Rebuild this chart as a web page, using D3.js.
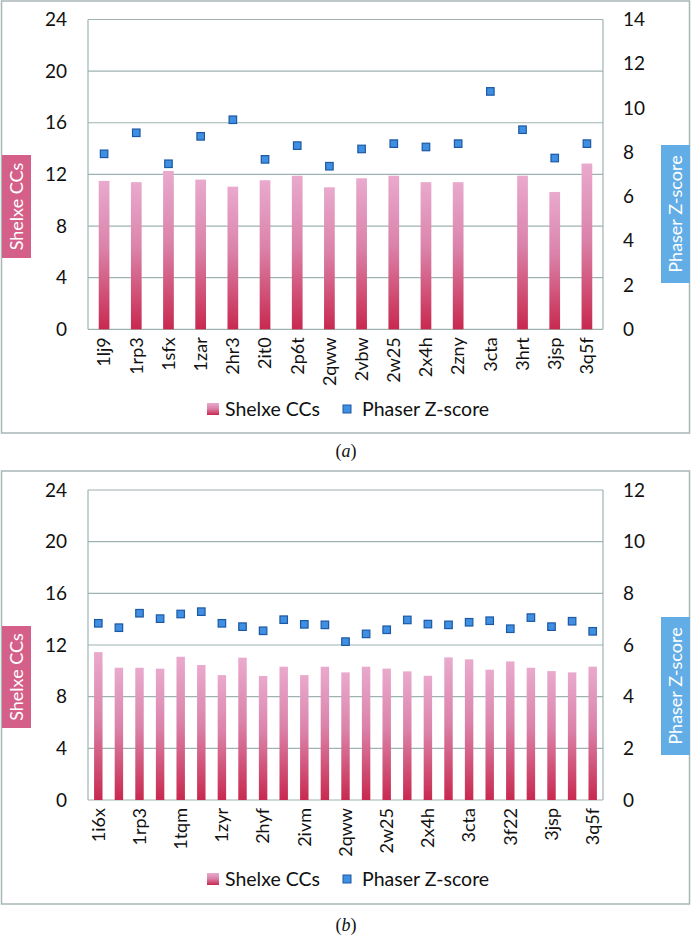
<!DOCTYPE html>
<html><head><meta charset="utf-8">
<script src="https://cdn.jsdelivr.net/npm/d3@7"></script>
<style>body{margin:0;background:#fff}svg{display:block}</style>
</head><body>
<script>
// Panel (a)
const catsA = ["1lj9","1rp3","1sfx","1zar","2hr3","2it0","2p6t","2qww","2vbw","2w25","2x4h","2zny","3cta","3hrt","3jsp","3q5f"];
const shelxeA = [11.5,11.4,12.27,11.6,11.05,11.55,11.9,11.0,11.7,11.9,11.4,11.4,null,11.9,10.64,12.84];
const phaserA = [7.93,8.88,7.48,8.72,9.47,7.68,8.30,7.37,8.15,8.39,8.24,8.39,10.75,9.02,7.74,8.39];
const leftTicksA = [0,4,8,12,16,20,24];
const rightTicksA = [0,2,4,6,8,10,12,14];
// Panel (b)
const catsB = ["1i6x","1lj9","1rp3","1sfx","1tqm","1zar","1zyr","2hr3","2hyf","2it0","2ivm","2p6t","2qww","2vbw","2w25","?a","2x4h","2zny","3cta","?b","3f22","3hrt","3jsp","?c","3q5f"];
const shelxeB = [11.45,10.24,10.24,10.17,11.09,10.45,9.67,11.02,9.6,10.32,9.67,10.32,9.88,10.32,10.17,9.96,9.62,11.04,10.89,10.09,10.73,10.24,9.98,9.88,10.32];
const phaserB = [6.84,6.67,7.23,7.02,7.2,7.29,6.84,6.71,6.55,6.98,6.8,6.78,6.13,6.43,6.59,6.97,6.81,6.78,6.88,6.94,6.63,7.06,6.71,6.92,6.53];
const leftTicksB = [0,4,8,12,16,20,24];
const rightTicksB = [0,2,4,6,8,10,12];

const W = 692, H = 935;
const svg = d3.select("body").append("svg").attr("width", W).attr("height", H);
const defs = svg.append("defs");
const grad = defs.append("linearGradient").attr("id","barGrad").attr("x1",0).attr("y1",0).attr("x2",0).attr("y2",1);
grad.append("stop").attr("offset","0%").attr("stop-color","#e9aacd");
grad.append("stop").attr("offset","45%").attr("stop-color","#db83aa");
grad.append("stop").attr("offset","100%").attr("stop-color","#c8294f");
const FONT = "Lato, 'Open Sans', sans-serif";

function panel(o) {
  const g = svg.append("g");
  g.append("rect").attr("x",1.5).attr("y",o.boxTop).attr("width",688).attr("height",o.boxBottom-o.boxTop)
    .attr("fill","#fff").attr("stroke","#a9b6b6").attr("stroke-width",1.5);
  const x = d3.scaleBand().domain(o.cats).range([88,603]).paddingInner(o.pad).paddingOuter(o.pad/2);
  const yL = d3.scaleLinear().domain([0,24]).range([o.zero,o.top]);
  const yR = d3.scaleLinear().domain([0,o.rmax]).range([o.zero,o.top]);
  // grid
  g.append("g").selectAll("line").data(o.lt).join("line")
    .attr("x1",88).attr("x2",603).attr("y1",d=>yL(d)).attr("y2",d=>yL(d))
    .attr("stroke","#9fb2b2").attr("stroke-width",1.2);
  g.append("line").attr("x1",88).attr("x2",88).attr("y1",o.top).attr("y2",o.zero).attr("stroke","#9fb2b2").attr("stroke-width",1.2);
  g.append("line").attr("x1",603).attr("x2",603).attr("y1",o.top).attr("y2",o.zero).attr("stroke","#9fb2b2").attr("stroke-width",1.2);
  // left axis
  const la = g.append("g").attr("transform",`translate(67,0)`).call(d3.axisLeft(yL).tickValues(o.lt).tickSize(0).tickPadding(0));
  la.select(".domain").remove();
  la.selectAll("text").attr("font-family",FONT).attr("font-size",19).attr("fill","#111");
  const ra = g.append("g").attr("transform",`translate(623,0)`).call(d3.axisRight(yR).tickValues(o.rt).tickSize(0).tickPadding(0));
  ra.select(".domain").remove();
  ra.selectAll("text").attr("font-family",FONT).attr("font-size",19).attr("fill","#111");
  // bars
  g.append("g").selectAll("rect").data(o.cats.map((c,i)=>({c,v:o.bars[i]})).filter(d=>d.v!=null)).join("rect")
    .attr("x",d=>x(d.c)).attr("width",x.bandwidth()).attr("y",d=>yL(d.v)).attr("height",d=>o.zero-yL(d.v))
    .attr("fill","url(#barGrad)");
  // points
  const ms = 7.5;
  g.append("g").selectAll("rect").data(o.cats.map((c,i)=>({c,v:o.pts[i]}))).join("rect")
    .attr("x",d=>x(d.c)+x.bandwidth()/2-ms/2).attr("y",d=>yR(d.v)-ms/2).attr("width",ms).attr("height",ms)
    .attr("fill","#3f90e2").attr("stroke","#1c58a3").attr("stroke-width",1.2);
  // x labels
  const xa = g.append("g").attr("transform",`translate(0,${o.zero})`).call(d3.axisBottom(x).tickSize(0).tickValues(o.cats.filter((c,i)=>i%o.every===0)));
  xa.select(".domain").remove();
  xa.selectAll("text").attr("font-family",FONT).attr("font-size",18).attr("fill","#111")
    .attr("transform","rotate(-90)").attr("text-anchor","end").attr("dx","-8").attr("dy","0.35em").attr("y",0).attr("x",0);
  // axis title boxes
  const lb = g.append("g");
  lb.append("rect").attr("x",2).attr("y",o.lbox[0]).attr("width",29).attr("height",o.lbox[1]-o.lbox[0]).attr("fill","#d45f88");
  lb.append("text").attr("transform",`translate(17,${(o.lbox[0]+o.lbox[1])/2}) rotate(-90)`).attr("text-anchor","middle").attr("dy","0.35em")
    .attr("font-family",FONT).attr("font-size",18).attr("fill","#fff").text("Shelxe CCs");
  const rb = g.append("g");
  rb.append("rect").attr("x",661).attr("y",o.rbox[0]).attr("width",29).attr("height",o.rbox[1]-o.rbox[0]).attr("fill","#63ade6");
  rb.append("text").attr("transform",`translate(676,${(o.rbox[0]+o.rbox[1])/2}) rotate(-90)`).attr("text-anchor","middle").attr("dy","0.35em")
    .attr("font-family",FONT).attr("font-size",18).attr("fill","#fff").text("Phaser Z-score");
  // legend
  const lg = g.append("g");
  lg.append("rect").attr("x",207).attr("y",o.leg-6).attr("width",12).attr("height",12).attr("fill","url(#barGrad)");
  lg.append("text").attr("x",225).attr("y",o.leg).attr("dy","0.35em").attr("font-family",FONT).attr("font-size",19.5).attr("fill","#111").text("Shelxe CCs");
  lg.append("rect").attr("x",343).attr("y",o.leg-4).attr("width",8).attr("height",8).attr("fill","#3f90e2").attr("stroke","#1c58a3").attr("stroke-width",1);
  lg.append("text").attr("x",362).attr("y",o.leg).attr("dy","0.35em").attr("font-family",FONT).attr("font-size",19.5).attr("fill","#111").text("Phaser Z-score");
  // caption
  const cap = svg.append("text").attr("x",346).attr("y",o.cap).attr("text-anchor","middle").attr("dy","0.35em")
    .attr("font-family","'Liberation Serif', 'DejaVu Serif', serif").attr("font-size",18).attr("fill","#111");
  cap.append("tspan").text("(");
  cap.append("tspan").attr("font-style","italic").text(o.label);
  cap.append("tspan").text(")");
}

panel({cats:catsA,bars:shelxeA,pts:phaserA,lt:leftTicksA,rt:rightTicksA,rmax:14,top:19.5,zero:329.3,pad:0.667,
  boxTop:1,boxBottom:433,every:1,lbox:[155,258],rbox:[145,283],leg:409,cap:451,label:"a"});
panel({cats:catsB,bars:shelxeB,pts:phaserB,lt:leftTicksB,rt:rightTicksB,rmax:12,top:490,zero:800,pad:0.59,
  boxTop:471,boxBottom:904,every:2,lbox:[626,728],rbox:[617,755],leg:879,cap:925,label:"b"});
</script>
</body></html>
